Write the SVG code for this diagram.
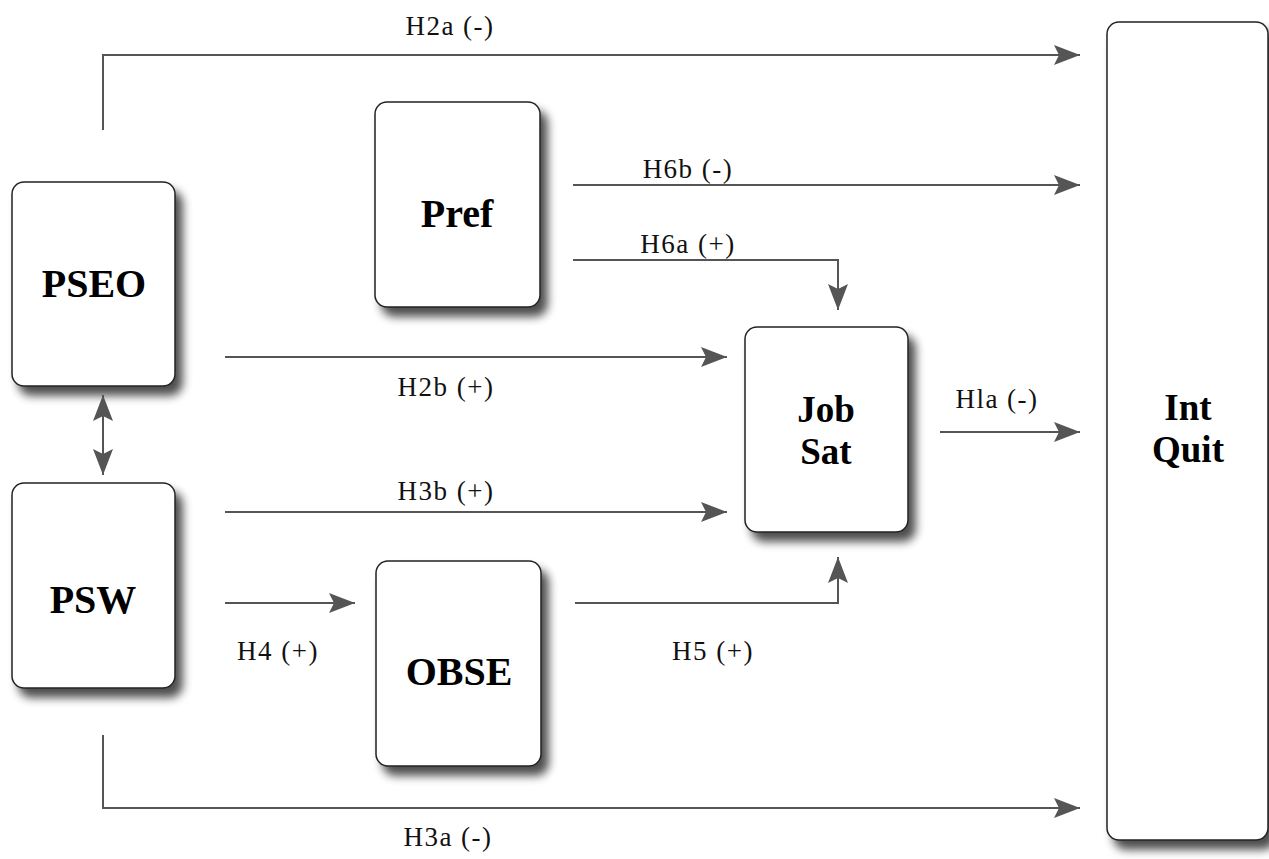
<svg xmlns="http://www.w3.org/2000/svg" width="1269" height="859" viewBox="0 0 1269 859">
<defs>
<filter id="sh" x="-20%" y="-20%" width="150%" height="150%">
<feGaussianBlur in="SourceAlpha" stdDeviation="5"/>
<feOffset dx="7" dy="9" result="b"/>
<feComponentTransfer><feFuncA type="linear" slope="0.7"/></feComponentTransfer>
<feMerge><feMergeNode/><feMergeNode in="SourceGraphic"/></feMerge>
</filter>
<marker id="ah" viewBox="0 0 26 20" refX="26" refY="10" markerWidth="26" markerHeight="20" markerUnits="userSpaceOnUse" orient="auto-start-reverse">
<path d="M0,0 L26,10 L0,20 L5,10 Z" fill="#555"/>
</marker>
</defs>
<style>
.box{fill:#fff;stroke:#222;stroke-width:1.5;filter:url(#sh)}
.lbl{font-family:"Liberation Serif","Times New Roman",serif;font-weight:bold;font-size:40px;fill:#000;text-anchor:middle}
.lbl2{font-family:"Liberation Serif","Times New Roman",serif;font-weight:bold;font-size:37px;fill:#000;text-anchor:middle}
.cl{font-family:"Liberation Serif","Times New Roman",serif;font-size:27px;letter-spacing:1.5px;fill:#111;text-anchor:middle}
.c{fill:none;stroke:#555;stroke-width:2;marker-end:url(#ah)}
</style>
<rect width="1269" height="859" fill="#fff"/>
<g id="PSEO"><rect class="box" x="12" y="182" width="163" height="204" rx="12"/><text class="lbl" x="94" y="297">PSEO</text></g>
<g id="PSW"><rect class="box" x="12" y="483" width="163" height="205" rx="12"/><text class="lbl" x="93" y="613">PSW</text></g>
<g id="Pref"><rect class="box" x="375" y="102" width="165" height="205" rx="12"/><text class="lbl" x="457" y="227">Pref</text></g>
<g id="JobSat"><rect class="box" x="745" y="327" width="163" height="205" rx="12"/><text class="lbl2" x="826" y="422">Job</text><text class="lbl2" x="826" y="464">Sat</text></g>
<g id="OBSE"><rect class="box" x="376" y="561" width="165" height="205" rx="12"/><text class="lbl" x="459" y="685">OBSE</text></g>
<g id="IntQuit"><rect class="box" x="1107" y="22" width="161" height="818" rx="12"/><text class="lbl2" x="1188" y="420">Int</text><text class="lbl2" x="1188" y="462">Quit</text></g>
<g id="connectors">
<path class="c" d="M103,130 V55 H1080"/>
<path class="c" d="M573,185 H1080"/>
<path class="c" d="M573,260 H838 V310"/>
<path class="c" d="M225,357 H727"/>
<path class="c" d="M225,512 H727"/>
<path class="c" d="M225,603 H355"/>
<path class="c" d="M575,603 H838 V557"/>
<path class="c" d="M940,432 H1080"/>
<path class="c" d="M103,735 V808 H1080"/>
<path class="c" d="M103,395 V475" marker-start="url(#ah)"/>
<text class="cl" x="450" y="35">H2a (-)</text>
<text class="cl" x="688" y="178">H6b (-)</text>
<text class="cl" x="688" y="253">H6a (+)</text>
<text class="cl" x="446" y="396">H2b (+)</text>
<text class="cl" x="446" y="500">H3b (+)</text>
<text class="cl" x="278" y="660">H4 (+)</text>
<text class="cl" x="713" y="660">H5 (+)</text>
<text class="cl" x="997" y="408">Hla (-)</text>
<text class="cl" x="448" y="846">H3a (-)</text>
</g>
</svg>
